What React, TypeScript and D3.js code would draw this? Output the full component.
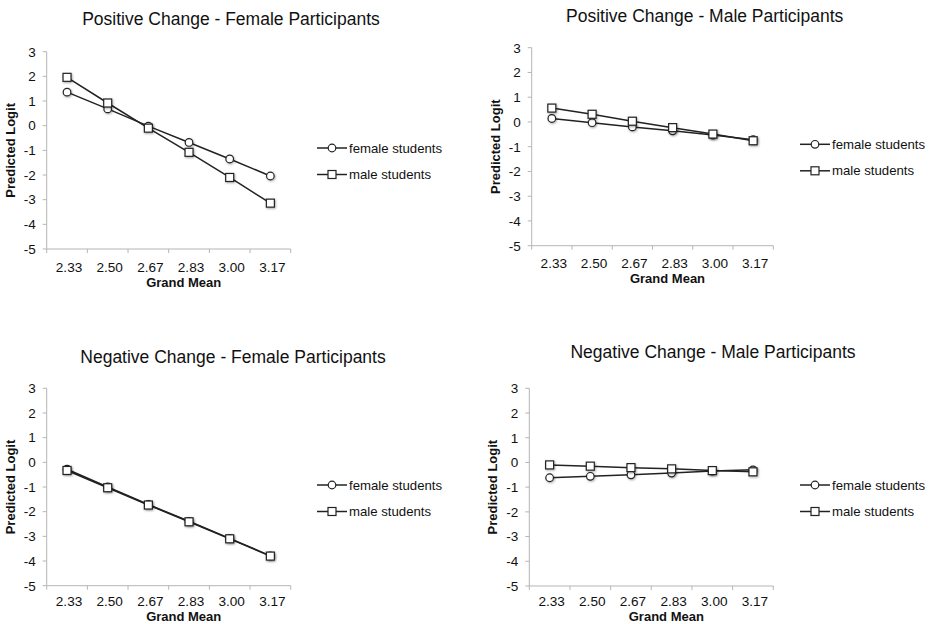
import React from 'react';
import * as d3 from 'd3';

const categories = ['2.33', '2.50', '2.67', '2.83', '3.00', '3.17'];
const yTicks = [3, 2, 1, 0, -1, -2, -3, -4, -5];
const seriesNames = ['female students', 'male students'];

// Predicted logit per panel
const posFemaleFemale = [1.36, 0.68, -0.02, -0.68, -1.35, -2.04];
const posFemaleMale = [1.96, 0.92, -0.1, -1.08, -2.1, -3.14];
const posMaleFemale = [0.14, -0.03, -0.2, -0.36, -0.53, -0.72];
const posMaleMale = [0.56, 0.31, 0.03, -0.23, -0.49, -0.76];
const negFemaleFemale = [-0.28, -1.0, -1.71, -2.39, -3.08, -3.79];
const negFemaleMale = [-0.33, -1.03, -1.73, -2.41, -3.1, -3.8];
const negMaleFemale = [-0.62, -0.56, -0.5, -0.43, -0.35, -0.3];
const negMaleMale = [-0.1, -0.15, -0.21, -0.26, -0.33, -0.38];

const FONT = 'Liberation Sans, Arial, Helvetica, sans-serif';
const H = 624;

type PanelProps = {
  title: string;
  female: number[];
  male: number[];
  left: number;
  right: number;
  top: number;
  bottom: number;
  titleX: number;
  titleY: number;
  legendX: number;
  legendY: number;
};

const Panel = ({ title, female, male, left, right, top, bottom, titleX, titleY, legendX, legendY }: PanelProps) => {
  const x = d3.scaleBand<string>().domain(categories).range([left, right]);
  const y = d3.scaleLinear().domain([-5, 3]).range([bottom, top]);
  const line = d3
    .line<number>()
    .x((_, i) => (x(categories[i]) as number) + x.bandwidth() / 2)
    .y((d) => y(d));
  const series = [female, male];
  const axisColor = '#b5b5b5';
  const cx = (i: number) => (x(categories[i]) as number) + x.bandwidth() / 2;
  // keep the axis title inside the picture
  const gmY = Math.min(bottom + 37.5, H - 3.4);
  const tickY = Math.min(bottom + 22.5, gmY - 14.6);

  const marker = (s: number, px: number, py: number, key: string) =>
    s === 0 ? (
      <circle key={key} cx={px} cy={py} r={3.8} fill="#fff" stroke="#222" strokeWidth={1.2} filter="url(#shadow)" />
    ) : (
      <rect key={key} x={px - 4} y={py - 4} width={8} height={8} fill="#fff" stroke="#222" strokeWidth={1.2} filter="url(#shadow)" />
    );

  return (
    <g fontFamily={FONT}>
      <text x={titleX} y={titleY} textAnchor="middle" fontSize={17.5} fill="#111">
        {title}
      </text>
      {/* y axis */}
      <line x1={left} x2={left} y1={top} y2={bottom} stroke={axisColor} />
      {yTicks.map((t) => (
        <g key={t}>
          <line x1={left - 4} x2={left} y1={y(t)} y2={y(t)} stroke={axisColor} />
          <text x={left - 11} y={y(t) + 4.8} textAnchor="end" fontSize={13.5} fill="#111">
            {t}
          </text>
        </g>
      ))}
      {/* x axis */}
      <line x1={left} x2={right} y1={bottom} y2={bottom} stroke={axisColor} />
      {[...categories.map((c) => x(c) as number), right].map((p, i) => (
        <line key={i} x1={p} x2={p} y1={bottom} y2={bottom + 4} stroke={axisColor} />
      ))}
      {categories.map((c, i) => (
        <text key={c} x={cx(i) + 2} y={tickY} textAnchor="middle" fontSize={13.6} fill="#111">
          {c}
        </text>
      ))}
      <text x={(left + right) / 2 + 15} y={gmY} textAnchor="middle" fontSize={13} fontWeight="bold" fill="#111">
        Grand Mean
      </text>
      <text
        transform={`translate(${left - 32},${(top + bottom) / 2}) rotate(-90)`}
        textAnchor="middle"
        fontSize={13}
        fontWeight="bold"
        fill="#111"
      >
        Predicted Logit
      </text>
      {/* series */}
      {series.map((vals, s) => (
        <g key={s}>
          <path d={line(vals) as string} fill="none" stroke="#222" strokeWidth={1.5} />
          {vals.map((v, i) => marker(s, cx(i), y(v), `${s}-${i}`))}
        </g>
      ))}
      {/* legend */}
      {seriesNames.map((name, s) => {
        const ly = legendY + s * 26.5;
        return (
          <g key={name}>
            <line x1={legendX} x2={legendX + 30} y1={ly} y2={ly} stroke="#222" strokeWidth={1.5} />
            {s === 0 ? (
              <circle cx={legendX + 15} cy={ly} r={3.8} fill="#fff" stroke="#222" strokeWidth={1.2} />
            ) : (
              <rect x={legendX + 11} y={ly - 4} width={8} height={8} fill="#fff" stroke="#222" strokeWidth={1.2} />
            )}
            <text x={legendX + 32} y={ly + 4.6} fontSize={13.2} fill="#111">
              {name}
            </text>
          </g>
        );
      })}
    </g>
  );
};

export default function App() {
  return (
    <svg width={934} height={H} style={{ position: 'absolute', left: 0, top: 0, background: '#fff' }}>
      <defs>
        <filter id="shadow" x="-50%" y="-50%" width="200%" height="200%">
          <feDropShadow dx={0.8} dy={1} stdDeviation={0.8} floodColor="#000" floodOpacity={0.35} />
        </filter>
      </defs>
      <rect width={934} height={H} fill="#fff" />
      <Panel
        title="Positive Change - Female Participants"
        female={posFemaleFemale}
        male={posFemaleMale}
        left={46.7}
        right={290.7}
        top={51.7}
        bottom={249}
        titleX={231}
        titleY={24.5}
        legendX={317}
        legendY={148}
      />
      <Panel
        title="Positive Change - Male Participants"
        female={posMaleFemale}
        male={posMaleMale}
        left={531.7}
        right={773.3}
        top={47.7}
        bottom={245.7}
        titleX={704.7}
        titleY={22}
        legendX={800}
        legendY={144.3}
      />
      <Panel
        title="Negative Change - Female Participants"
        female={negFemaleFemale}
        male={negFemaleMale}
        left={46.7}
        right={290.7}
        top={388.3}
        bottom={585.7}
        titleX={233}
        titleY={363}
        legendX={317}
        legendY={485}
      />
      <Panel
        title="Negative Change - Male Participants"
        female={negMaleFemale}
        male={negMaleMale}
        left={529.3}
        right={773.3}
        top={388.3}
        bottom={586}
        titleX={713}
        titleY={358}
        legendX={800}
        legendY={485}
      />
    </svg>
  );
}
